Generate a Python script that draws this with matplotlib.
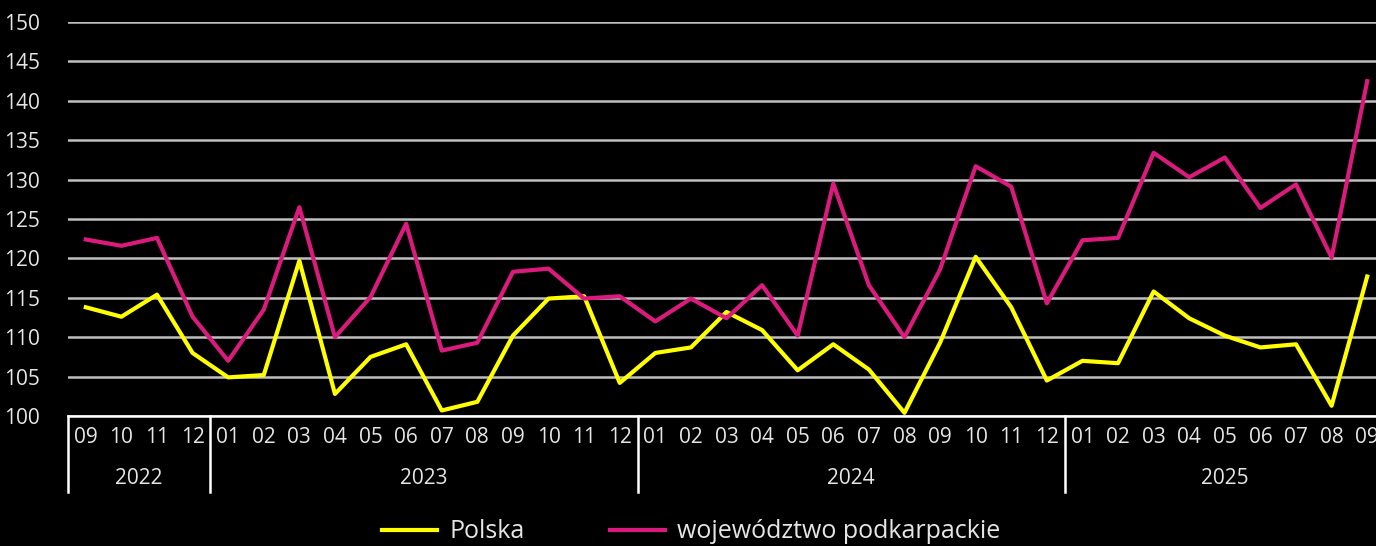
import matplotlib.pyplot as plt
import matplotlib.transforms as mtransforms

plt.rcParams['font.family'] = ['Open Sans', 'DejaVu Sans']

months = ['09', '10', '11', '12',
          '01', '02', '03', '04', '05', '06', '07', '08', '09', '10', '11', '12',
          '01', '02', '03', '04', '05', '06', '07', '08', '09', '10', '11', '12',
          '01', '02', '03', '04', '05', '06', '07', '08', '09']
years = ['2022', '2023', '2024', '2025']
year_counts = [4, 12, 12, 9]

polska = [113.8, 112.6, 115.4, 108.0,
          104.9, 105.2, 119.7, 102.8, 107.5, 109.1, 100.7, 101.8, 110.2, 114.9, 115.2, 104.2,
          108.0, 108.7, 113.2, 110.9, 105.8, 109.1, 105.9, 100.4, 109.3, 120.2, 113.8, 104.5,
          107.0, 106.7, 115.8, 112.4, 110.2, 108.7, 109.1, 101.3, 117.7]
podkarpackie = [122.4, 121.6, 122.6, 112.6,
                107.0, 113.5, 126.5, 110.0, 115.1, 124.4, 108.3, 109.3, 118.3, 118.7, 114.9, 115.2,
                112.0, 114.9, 112.4, 116.6, 110.2, 129.5, 116.6, 110.0, 118.6, 131.7, 129.1, 114.3,
                122.3, 122.6, 133.4, 130.3, 132.8, 126.4, 129.4, 120.1, 142.5]

fig = plt.figure(figsize=(13.76, 5.46), dpi=100, facecolor='black')
ax = fig.add_axes([68 / 1376, 130 / 546, (1385 - 68) / 1376, 394 / 546])
ax.set_facecolor('black')

x = list(range(len(months)))
ax.plot(x, polska, color='#FFFF00', lw=3, label='Polska', zorder=3)
ax.plot(x, podkarpackie, color='#DB1A7E', lw=3, label='województwo podkarpackie', zorder=3)

ax.set_ylim(100, 150)
ax.set_xlim(-0.5, len(months) - 0.5)
ax.set_yticks(range(100, 151, 5))
ax.yaxis.grid(True, color='#BFBFBF', lw=1.8)
ax.set_axisbelow(True)
for s in ['top', 'right', 'left']:
    ax.spines[s].set_visible(False)
ax.spines['bottom'].set_color('white')
ax.spines['bottom'].set_linewidth(1.8)
ax.set_xticks(x)
ax.set_xticklabels(months)
ax.tick_params(axis='both', length=0, colors='#E6E6E6', labelsize=15)
ax.tick_params(axis='y', pad=20)
ax.tick_params(axis='x', pad=8)

trans = mtransforms.blended_transform_factory(ax.transData, ax.transAxes)
bounds = [-0.5]
for n in year_counts:
    bounds.append(bounds[-1] + n)
for b in bounds[:-1]:
    ax.plot([b, b], [0, -76 / 394], color='white', lw=1.8, transform=trans, clip_on=False)
for i, yr in enumerate(years):
    mid = (bounds[i] + bounds[i + 1]) / 2
    ax.text(mid, -62 / 394, yr, transform=trans, ha='center', va='center',
            color='#E6E6E6', fontsize=15)

leg = fig.legend(loc='center', bbox_to_anchor=(0.5025, 0.026), ncol=2, frameon=False,
                 fontsize=18, handlelength=2.2, columnspacing=3.4, handletextpad=0.5)
for t in leg.get_texts():
    t.set_color('#E6E6E6')

fig.savefig('out.png', dpi=100, facecolor='black')
